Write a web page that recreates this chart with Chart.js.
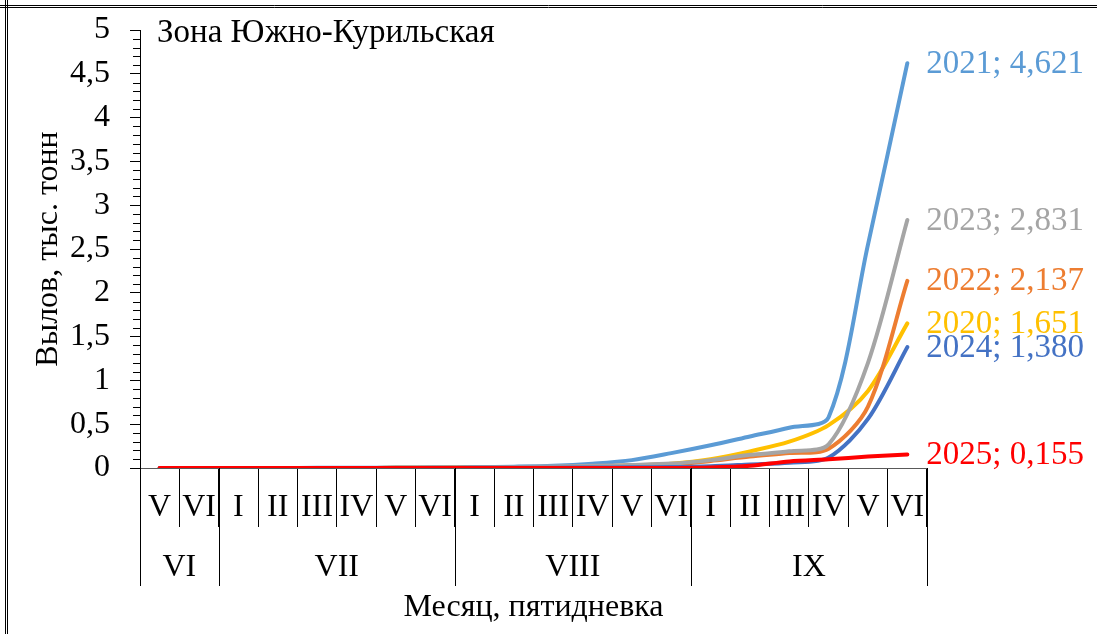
<!DOCTYPE html>
<html lang="ru">
<head>
<meta charset="utf-8">
<title>Зона Южно-Курильская</title>
<script src="https://cdn.jsdelivr.net/npm/chart.js@4.4.1/dist/chart.umd.min.js"></script>
<style>
  html, body { margin: 0; padding: 0; background: #fff; }
  #wrap { position: relative; width: 1097px; height: 634px; }
</style>
</head>
<body>
<div id="wrap"><canvas id="chart"></canvas></div>
<script>
"use strict";

/* ---- Data ------------------------------------------------------------- */
// pentads (пятидневки), June V .. September VI
const PENTADS = ["V", "VI",
  "I", "II", "III", "IV", "V", "VI",
  "I", "II", "III", "IV", "V", "VI",
  "I", "II", "III", "IV", "V", "VI"];
const MONTHS = ["VI", "VII", "VIII", "IX"];
const MONTH_SPANS = [2, 6, 6, 6];
const Y_TICKS = [0, 0.5, 1, 1.5, 2, 2.5, 3, 3.5, 4, 4.5, 5];

// catch, thousand tonnes
const C2020 = [0, 0, 0, 0, 0, 0, 0.002, 0.004, 0.006, 0.01, 0.015, 0.02, 0.03, 0.05, 0.1, 0.19, 0.3, 0.49, 0.88, 1.651];
const C2021 = [0, 0, 0, 0, 0.002, 0.003, 0.005, 0.008, 0.01, 0.015, 0.025, 0.05, 0.09, 0.17, 0.26, 0.36, 0.46, 0.58, 2.55, 4.621];
const C2022 = [0, 0, 0, 0, 0, 0, 0.002, 0.004, 0.006, 0.008, 0.012, 0.018, 0.025, 0.035, 0.08, 0.13, 0.17, 0.22, 0.7, 2.137];
const C2023 = [0, 0, 0, 0, 0, 0, 0.003, 0.005, 0.008, 0.012, 0.018, 0.025, 0.035, 0.05, 0.09, 0.15, 0.19, 0.27, 1.2, 2.831];
const C2024 = [0, 0, 0, 0, 0, 0, 0, 0, 0.002, 0.003, 0.004, 0.006, 0.008, 0.01, 0.02, 0.04, 0.06, 0.12, 0.56, 1.38];
const C2025 = [0, 0, 0, 0, 0, 0, 0, 0, 0, 0, 0, 0, 0, 0, 0.005, 0.025, 0.075, 0.1, 0.13, 0.155];

const SERIES = [
  { year: 2020, data: C2020, color: "#FFC000" },
  { year: 2021, data: C2021, color: "#5B9BD5" },
  { year: 2022, data: C2022, color: "#ED7D31" },
  { year: 2023, data: C2023, color: "#A5A5A5" },
  { year: 2024, data: C2024, color: "#4472C4" },
  { year: 2025, data: C2025, color: "#FF0000" },
];

const FONT = '"Liberation Serif", "Times New Roman", serif';
const comma = (v, d) => (d == null ? String(v) : v.toFixed(d)).replace(".", ",");

Chart.defaults.font.family = FONT;
Chart.defaults.font.size = 32;
Chart.defaults.color = "#000";

/* ---- Plugins ------------------------------------------------------------ */
// double border of the table cell (top + left)
const frame = {
  id: "frame",
  beforeDraw(chart) {
    const { ctx, width, height } = chart;
    ctx.save();
    ctx.strokeStyle = "#000";
    ctx.lineWidth = 1;
    ctx.beginPath();
    [5.5, 7.5].forEach((p) => {
      ctx.moveTo(0, p); ctx.lineTo(width, p);
      ctx.moveTo(p, 0); ctx.lineTo(p, height);
    });
    ctx.stroke();
    ctx.restore();
  },
};

// minor ticks on y, month row under the pentads, title, end labels
const decor = {
  id: "decor",
  afterDraw(chart) {
    const { ctx, chartArea } = chart;
    const x = chart.scales.x, y = chart.scales.y;
    ctx.save();

    // minor ticks every 0.1
    ctx.strokeStyle = "#000";
    ctx.lineWidth = 1;
    ctx.beginPath();
    for (let i = 1; i < 50; i++) {
      if (i % 5 === 0) continue;
      const py = Math.round(y.getPixelForValue(i / 10)) + 0.5;
      ctx.moveTo(chartArea.left - 7, py);
      ctx.lineTo(chartArea.left, py);
    }
    ctx.stroke();

    // month separators + month names
    const half = (x.getPixelForValue(1) - x.getPixelForValue(0)) / 2;
    let start = 0;
    ctx.beginPath();
    const edges = [x.getPixelForValue(0) - half];
    MONTH_SPANS.forEach((n) => {
      start += n;
      edges.push(x.getPixelForValue(start - 1) + half);
    });
    edges.forEach((ex) => {
      const px = Math.round(ex) + 0.5;
      ctx.moveTo(px, x.top);
      ctx.lineTo(px, x.top + 118);
    });
    ctx.stroke();
    ctx.fillStyle = "#000";
    ctx.font = `32px ${FONT}`;
    ctx.textAlign = "center";
    ctx.textBaseline = "middle";
    MONTHS.forEach((m, i) => {
      ctx.fillText(m, (edges[i] + edges[i + 1]) / 2, x.top + 100);
    });

    // chart title inside the plot
    ctx.textAlign = "left";
    ctx.font = `33px ${FONT}`;
    ctx.fillText("Зона Южно-Курильская", chartArea.left + 17, chartArea.top + 3);

    // end-of-line labels: "год; значение"
    chart.data.datasets.forEach((ds, i) => {
      const meta = chart.getDatasetMeta(i);
      const last = meta.data[meta.data.length - 1];
      const v = ds.data[ds.data.length - 1];
      ctx.fillStyle = ds.borderColor;
      ctx.fillText(`${ds.label}; ${comma(v, 3)}`, last.x + 19, last.y + 1);
    });
    ctx.restore();
  },
};

/* ---- Chart -------------------------------------------------------------- */
new Chart(document.getElementById("chart"), {
  type: "line",
  data: {
    labels: PENTADS,
    datasets: SERIES.map((s) => ({
      label: String(s.year),
      data: s.data,
      borderColor: s.color,
      backgroundColor: s.color,
      borderWidth: 4,
      borderCapStyle: "round",
      borderJoinStyle: "round",
      pointRadius: 0,
      tension: 0.3,
      order: 2025 - s.year, // later years on top, as in the original
    })),
  },
  options: {
    responsive: true,
    maintainAspectRatio: false,
    animation: false,
    layout: { padding: { top: 30, right: 170, bottom: 0, left: 0 } },
    plugins: { legend: { display: false }, tooltip: { enabled: false } },
    scales: {
      x: {
        offset: true,
        grid: { offset: true, drawOnChartArea: false, tickLength: 59, color: "#000" },
        border: { color: "#595959", width: 1 },
        ticks: { autoSkip: false, maxRotation: 0, minRotation: 0, padding: -39, font: { size: 32 } },
        title: { display: true, text: "Месяц, пятидневка", font: { size: 32 }, padding: { top: 0, bottom: 7 } },
        afterFit: (s) => { s.height = 166; },
      },
      y: {
        min: 0,
        max: 5,
        afterBuildTicks: (s) => { s.ticks = Y_TICKS.map((v) => ({ value: v })); },
        grid: { drawOnChartArea: false, tickLength: 10, color: "#000" },
        border: { color: "#000", width: 1 },
        ticks: { autoSkip: false, padding: 20, font: { size: 32 }, callback: (v) => comma(v) },
        title: { display: true, text: "Вылов, тыс. тонн", font: { size: 32 }, padding: { top: 29, bottom: 0 } },
        afterFit: (s) => {
          s.width = 140;
          s.paddingTop = 10; // keep the top of the axis where the original has it
          s.paddingBottom = 0;
        },
      },
    },
  },
  plugins: [frame, decor],
});
</script>
</body>
</html>
